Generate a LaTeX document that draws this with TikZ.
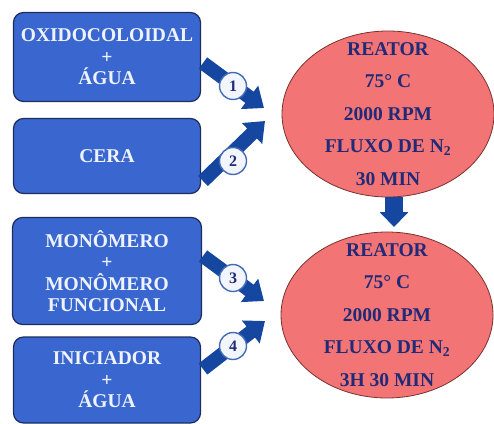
\documentclass[tikz,border=0pt]{standalone}
\usepackage{fontspec}
\setmainfont{Liberation Serif}
\usetikzlibrary{shapes.geometric,arrows.meta}
\definecolor{boxfill}{HTML}{3A67CF}
\definecolor{boxedge}{HTML}{1D2C5C}
\definecolor{arrblue}{HTML}{1546A0}
\definecolor{ellfill}{HTML}{F27474}
\definecolor{elledge}{HTML}{7A3030}
\definecolor{navy}{HTML}{1F2A78}
\definecolor{txtlight}{HTML}{EEF3FF}
\definecolor{circfill}{HTML}{F2F5FB}
\tikzset{
  inbox/.style={draw=boxedge, line width=1.2pt, fill=boxfill, rounded corners=10pt, text=txtlight, font=\bfseries\fontsize{19.5}{21.5}\selectfont, align=center, inner sep=0pt},
  reactor/.style={ellipse, draw=elledge, line width=0.8pt, fill=ellfill, minimum width=212pt, minimum height=166pt, inner sep=0pt},
  reactortext/.style={text=navy, align=center, inner sep=0pt, font=\bfseries\fontsize{19.5}{32.5}\selectfont},
  blockarr/.style={draw=arrblue, line width=14pt, -{Triangle[width=28pt,length=18pt]}},
  numcirc/.style={circle, draw=arrblue!80, line width=1.4pt, fill=circfill, minimum size=27pt, inner sep=0pt, text=navy, font=\bfseries\fontsize{16}{16}\selectfont},
}
\begin{document}
\begin{tikzpicture}[x=1pt,y=-1pt]
\useasboundingbox (0,0) rectangle (494,423);
% input boxes
\node[inbox, minimum width=187pt, minimum height=89pt] (b1) at (107,57) {OXIDOCOLOIDAL\\+\\ÁGUA};
\node[inbox, minimum width=187pt, minimum height=75pt] (b2) at (107,156) {CERA};
\node[inbox, minimum width=189pt, minimum height=107pt] (b3) at (107,271) {MONÔMERO\\+\\MONÔMERO\\FUNCIONAL};
\node[inbox, minimum width=187pt, minimum height=86pt] (b4) at (107,380) {INICIADOR\\+\\ÁGUA};
% reactors
\node[reactor] (r1) at (388,114) {};
\node[reactortext] (t1) at (r1.center) {REATOR\\75° C\\2000 RPM\\FLUXO DE N\textsubscript{2}\\30 MIN};
\node[reactor] (r2) at (387,315) {};
\node[reactortext] (t2) at (r2.center) {REATOR\\75° C\\2000 RPM\\FLUXO DE N\textsubscript{2}\\3H 30 MIN};
% arrow end points
\coordinate (a1s) at (203,63);
\coordinate (a1e) at (264,108);
\coordinate (a2s) at (203,181);
\coordinate (a2e) at (265,121);
\coordinate (a3s) at (203,256);
\coordinate (a3e) at (264,301);
\coordinate (a4s) at (203,369);
\coordinate (a4e) at (265,321);
\coordinate (d1s) at (394,197);
\coordinate (d1e) at (394,227);
\draw[blockarr] (a1s) -- (a1e);
\draw[blockarr] (a2s) -- (a2e);
\draw[blockarr] (a3s) -- (a3e);
\draw[blockarr] (a4s) -- (a4e);
\draw[draw=arrblue, line width=18pt, -{Triangle[width=28pt,length=15pt]}] (d1s) -- (d1e);
\node[numcirc] (c1) at (233,86) {1};
\node[numcirc] (c2) at (233,161) {2};
\node[numcirc] (c3) at (233,278) {3};
\node[numcirc] (c4) at (233,346) {4};
\end{tikzpicture}
\end{document}
